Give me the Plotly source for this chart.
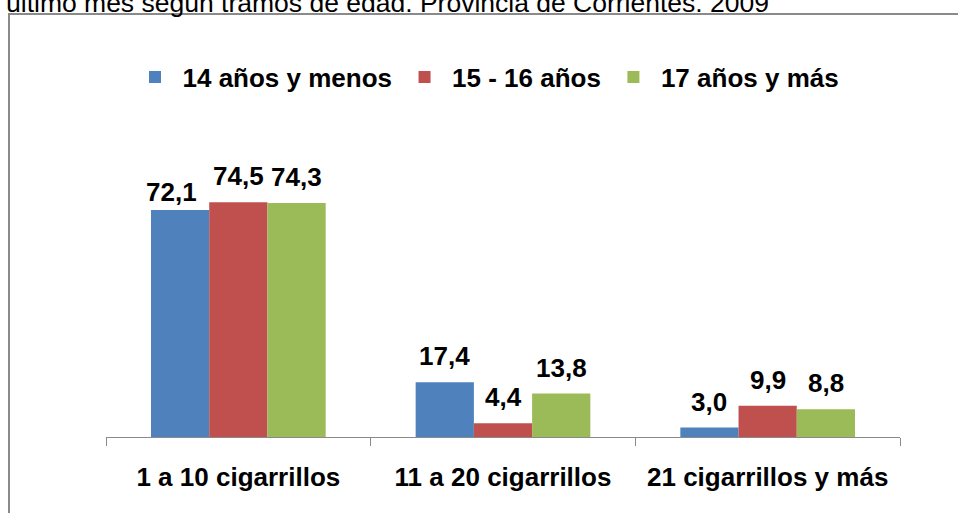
import plotly.graph_objects as go

categorias = ["1 a 10 cigarrillos", "11 a 20 cigarrillos", "21 cigarrillos y más"]
series = ["14 años y menos", "15 - 16 años", "17 años y más"]
v_14_menos = [72.1, 17.4, 3.0]
v_15_16 = [74.5, 4.4, 9.9]
v_17_mas = [74.3, 13.8, 8.8]
valores = [v_14_menos, v_15_16, v_17_mas]
colores = ["#4F81BD", "#C0504D", "#9BBB59"]

titulo = "último mes según tramos de edad. Provincia de Corrientes. 2009"

W, H = 958, 513
L, R, T, B = 106, 58, 185, 76
pw, ph = W - L - R, H - T - B
BARGAP = 0.34
FONT = "Liberation Sans, Arial, sans-serif"
FS = 26


def px_x(x):
    return (x - L) / pw


def px_y(y):
    return (H - B - y) / ph


fig = go.Figure()
for nombre, vals, col in zip(series, valores, colores):
    fig.add_trace(go.Bar(x=categorias, y=vals, name=nombre, marker_color=col,
                         marker_line_width=0))

# etiquetas de datos encima de cada barra
cat_w = pw / len(categorias)
bar_w = (1 - BARGAP) * cat_w / len(series)
ajuste = {(0, 0): (-9, 18)}  # la etiqueta 72,1 está desplazada
anots = []
for i, vals in enumerate(valores):
    for j, v in enumerate(vals):
        dx, dy = ajuste.get((i, j), (0, 26))
        anots.append(dict(
            x=categorias[j], y=v, xref="x", yref="y",
            text=f"{v:.1f}".replace(".", ","), showarrow=False,
            xshift=(i - 1) * bar_w + dx, yshift=dy,
            yanchor="middle",
            font=dict(family=FONT, size=FS, color="black", weight="bold"),
        ))

anots.append(dict(
    x=px_x(4), y=px_y(3), xref="paper", yref="paper", text=titulo,
    showarrow=False, xanchor="left", yanchor="middle",
    font=dict(family=FONT, size=26.5, color="black"),
))

fig.update_layout(
    width=W, height=H,
    margin=dict(l=L, r=R, t=T, b=B),
    paper_bgcolor="white", plot_bgcolor="white",
    barmode="group", bargap=BARGAP, bargroupgap=0,
    font=dict(family=FONT, size=FS, color="black"),
    showlegend=True,
    legend=dict(orientation="h", x=px_x(486), xanchor="center",
                y=px_y(77), yanchor="middle", itemwidth=45,
                font=dict(family=FONT, size=FS, color="black", weight="bold"),
                itemclick=False),
    annotations=anots,
    shapes=[dict(type="rect", xref="paper", yref="paper",
                 x0=px_x(9), x1=px_x(975), y0=px_y(14), y1=px_y(530),
                 line=dict(color="#8a8a8a", width=2), layer="below")],
)
fig.update_xaxes(showline=True, linecolor="#8a8a8a", linewidth=1,
                 ticks="outside", tickson="boundaries", ticklen=8,
                 tickcolor="#8a8a8a", ticklabelstandoff=17,
                 tickfont=dict(family=FONT, size=FS, color="black", weight="bold"),
                 showgrid=False)
fig.update_yaxes(range=[0, 80], visible=False, showgrid=False)

fig.write_html("out.html", config={"displayModeBar": False},
               post_script="document.body.style.margin = '0';")
